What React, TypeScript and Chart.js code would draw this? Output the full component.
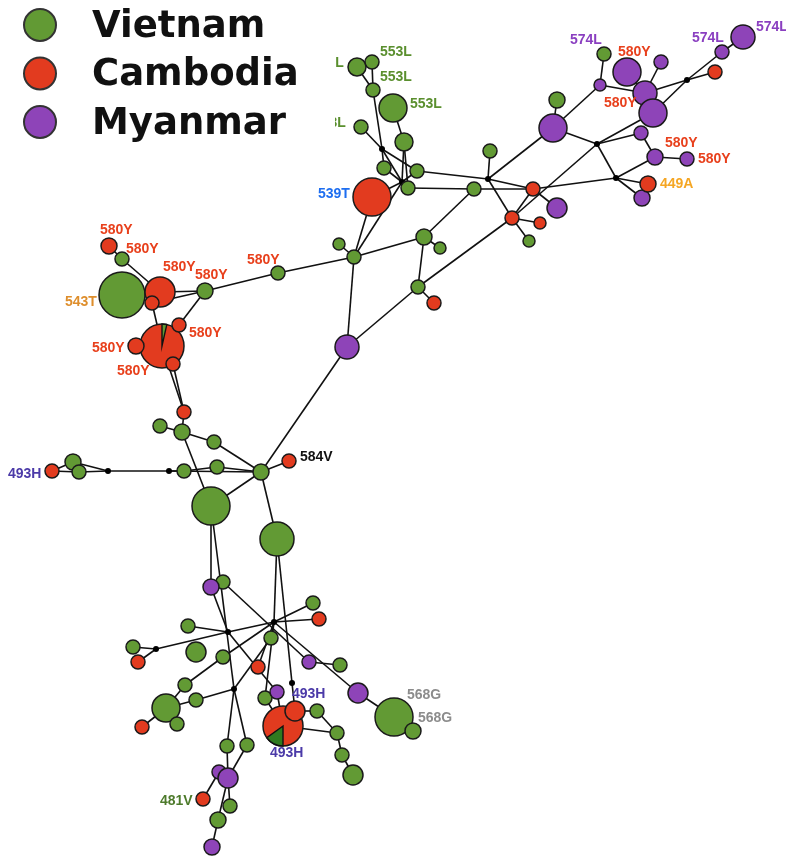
import React, { useEffect, useRef } from "react";
import { Chart, registerables } from "chart.js";
Chart.register(...registerables);

type Node = [string, number, number, number];

const vietnamNodes: Node[] = [
  ["v1", 357, 67, 9], ["v2", 372, 62, 7], ["v3", 373, 90, 7], ["v4", 393, 108, 14],
  ["v5", 361, 127, 7], ["v6", 404, 142, 9], ["v7", 384, 168, 7], ["v8", 417, 171, 7],
  ["v9", 408, 188, 7], ["v10", 490, 151, 7], ["v11", 474, 189, 7], ["v12", 529, 241, 6],
  ["v13", 424, 237, 8], ["v14", 440, 248, 6], ["v15", 339, 244, 6], ["v16", 354, 257, 7],
  ["v17", 557, 100, 8], ["v18", 604, 54, 7], ["v19", 278, 273, 7], ["v20", 418, 287, 7],
  ["v21", 122, 259, 7], ["v22", 122, 295, 23], ["v23", 205, 291, 8], ["v24", 160, 426, 7],
  ["v25", 182, 432, 8], ["v26", 214, 442, 7], ["v27", 261, 472, 8], ["v28", 217, 467, 7],
  ["v29", 184, 471, 7], ["v30", 73, 462, 8], ["v31", 79, 472, 7], ["v32", 211, 506, 19],
  ["v33", 277, 539, 17], ["v34", 223, 582, 7], ["v35", 313, 603, 7], ["v36", 188, 626, 7],
  ["v37", 133, 647, 7], ["v38", 196, 652, 10], ["v39", 271, 638, 7], ["v40", 223, 657, 7],
  ["v41", 340, 665, 7], ["v42", 265, 698, 7], ["v43", 185, 685, 7], ["v44", 196, 700, 7],
  ["v45", 166, 708, 14], ["v46", 177, 724, 7], ["v47", 317, 711, 7], ["v48", 337, 733, 7],
  ["v49", 342, 755, 7], ["v50", 353, 775, 10], ["v51", 394, 717, 19], ["v52", 413, 731, 8],
  ["v53", 227, 746, 7], ["v54", 247, 745, 7], ["v55", 230, 806, 7], ["v56", 218, 820, 8],
];

const cambodiaNodes: Node[] = [
  ["c1", 372, 197, 19], ["c2", 533, 189, 7], ["c3", 512, 218, 7], ["c4", 540, 223, 6],
  ["c5", 434, 303, 7], ["c6", 648, 184, 8], ["c7", 715, 72, 7], ["c8", 109, 246, 8],
  ["c9", 160, 292, 15], ["c10", 152, 303, 7], ["c11", 179, 325, 7], ["c13", 136, 346, 8],
  ["c14", 173, 364, 7], ["c15", 184, 412, 7], ["c16", 289, 461, 7], ["c17", 52, 471, 7],
  ["c18", 319, 619, 7], ["c19", 138, 662, 7], ["c20", 258, 667, 7], ["c21", 142, 727, 7],
  ["c23", 295, 711, 10], ["c24", 203, 799, 7],
];

const myanmarNodes: Node[] = [
  ["m1", 557, 208, 10], ["m2", 553, 128, 14], ["m3", 600, 85, 6], ["m4", 627, 72, 14],
  ["m5", 661, 62, 7], ["m6", 645, 93, 12], ["m7", 653, 113, 14], ["m8", 641, 133, 7],
  ["m9", 655, 157, 8], ["m10", 687, 159, 7], ["m11", 642, 198, 8], ["m12", 722, 52, 7],
  ["m13", 743, 37, 12], ["m14", 347, 347, 12], ["m15", 211, 587, 8], ["m16", 309, 662, 7],
  ["m17", 358, 693, 10], ["m18", 277, 692, 7], ["m19", 219, 772, 7], ["m20", 228, 778, 10],
  ["m21", 212, 847, 8],
];

// mixed haplotypes (mostly Cambodia with a Vietnam share)
const mixedNodes: Node[] = [["c12", 162, 346, 22], ["c22", 283, 726, 20]];
const mixedVietnamShare = [0.035, 0.15];
const mixedShareStartDeg = [0, 180];

const junctionNodes: [string, number, number][] = [
  ["j1", 382, 149], ["j2", 402, 182], ["j3", 488, 179], ["j4", 597, 144], ["j5", 616, 178],
  ["j6", 687, 80], ["j7", 108, 471], ["j8", 169, 471], ["j9", 274, 622], ["j10", 228, 632],
  ["j11", 156, 649], ["j12", 234, 689], ["j13", 292, 683],
];

const edges: [string, string][] = [
  ["v1", "v3"], ["v2", "v3"], ["v3", "j1"], ["j1", "v7"], ["v5", "j1"], ["j1", "v8"], ["j1", "j2"],
  ["v4", "v6"], ["v6", "j2"], ["v6", "v9"], ["v7", "j2"], ["v8", "j2"], ["v9", "j2"],
  ["c1", "j2"], ["c1", "v16"], ["j2", "v16"], ["v8", "j3"], ["v10", "j3"], ["j3", "m2"],
  ["j3", "c3"], ["j3", "c2"], ["v9", "v11"], ["v11", "c2"], ["v13", "v11"],
  ["v16", "v15"], ["v16", "v19"], ["v16", "v13"], ["v13", "v14"], ["v13", "v20"], ["v20", "c5"],
  ["v20", "c3"], ["v16", "m14"], ["m14", "v20"], ["m14", "v27"], ["v19", "v23"],
  ["c3", "c4"], ["c3", "v12"], ["c3", "c2"], ["c3", "j4"], ["c2", "m1"], ["c2", "j5"],
  ["m2", "v17"], ["m2", "j4"], ["m2", "m3"], ["m3", "v18"], ["m3", "m6"], ["m4", "m6"],
  ["m6", "m5"], ["m6", "j6"], ["j6", "m12"], ["m12", "m13"], ["j6", "c7"], ["j6", "m7"],
  ["j4", "m7"], ["j4", "m8"], ["m8", "m9"], ["m9", "m10"], ["j4", "j5"], ["j5", "m9"],
  ["j5", "c6"], ["j5", "m11"],
  ["c8", "v21"], ["v21", "c9"], ["c9", "v23"], ["c10", "v23"], ["v23", "c11"], ["c10", "c12"],
  ["c12", "c13"], ["c12", "c14"], ["c14", "c15"], ["c12", "c15"], ["c15", "v25"], ["v24", "v25"],
  ["v25", "v26"], ["v26", "v27"], ["v25", "v32"], ["v27", "c16"], ["v27", "v32"], ["v27", "v33"],
  ["v27", "v28"], ["v28", "v29"], ["v29", "j8"], ["j8", "j7"], ["j7", "v30"], ["j7", "v31"],
  ["v30", "c17"], ["v31", "c17"], ["j8", "v27"],
  ["v32", "m15"], ["m15", "v34"], ["m15", "j10"], ["v32", "j12"], ["v33", "j9"], ["v33", "j13"],
  ["j9", "v35"], ["j9", "c18"], ["j9", "v39"], ["j9", "j10"], ["j9", "m17"], ["j9", "v42"],
  ["j9", "v40"], ["j9", "c20"], ["j10", "v36"], ["j10", "j11"], ["j10", "m18"], ["j11", "v37"],
  ["j11", "c19"], ["v34", "m16"], ["m16", "v41"], ["v40", "v43"], ["v43", "v45"], ["v39", "j12"],
  ["j12", "v44"], ["v44", "v45"], ["v45", "v46"], ["v45", "c21"], ["j12", "v53"], ["v53", "m20"],
  ["j12", "v54"], ["v54", "m20"], ["m20", "m19"], ["m19", "c24"], ["m20", "v55"], ["m20", "v56"],
  ["v56", "m21"], ["j13", "c23"], ["v42", "c22"], ["m18", "c22"], ["c23", "v47"], ["v47", "v48"],
  ["c22", "v48"], ["v48", "v49"], ["v49", "v50"], ["m17", "v51"], ["v51", "v52"],
];

const legendCountries = ["Vietnam", "Cambodia", "Myanmar"];

// [text, x (left), y (middle), mutation group]
const mutationLabels: [string, number, number, string][] = [
  ["553L", 312, 63, "553L"], ["553L", 380, 52, "553L"], ["553L", 380, 77, "553L"],
  ["553L", 410, 104, "553L"], ["553L", 314, 123, "553L"], ["539T", 318, 194, "539T"],
  ["574L", 570, 40, "574L"], ["580Y", 618, 52, "580Y"], ["580Y", 604, 103, "580Y"],
  ["574L", 692, 38, "574L"], ["574L", 756, 27, "574L"], ["580Y", 665, 143, "580Y"],
  ["580Y", 698, 159, "580Y"], ["449A", 660, 184, "449A"], ["580Y", 247, 260, "580Y"],
  ["580Y", 100, 230, "580Y"], ["580Y", 126, 249, "580Y"], ["580Y", 163, 267, "580Y"],
  ["580Y", 195, 275, "580Y"], ["543T", 65, 302, "543T"], ["580Y", 189, 333, "580Y"],
  ["580Y", 92, 348, "580Y"], ["580Y", 117, 371, "580Y"], ["584V", 300, 457, "584V"],
  ["493H", 8, 474, "493H"], ["493H", 292, 694, "493H"], ["493H", 270, 753, "493H"],
  ["568G", 407, 695, "568G"], ["568G", 418, 718, "568G"], ["481V", 160, 801, "481V"],
];

const COLORS: Record<string, string> = {
  Vietnam: "#629a34",
  Cambodia: "#e23b1f",
  Myanmar: "#8e44b8",
};
const LABEL_COLORS: Record<string, string> = {
  "553L": "#5a8f2e", "539T": "#1e6ef0", "574L": "#8a3fc0", "580Y": "#e8401c",
  "449A": "#f5a623", "543T": "#de8e2c", "584V": "#111111", "493H": "#4b3aa8",
  "568G": "#8c8c8c", "481V": "#4d7a2b",
};

const toPts = (arr: Node[]) => arr.map(([, x, y, r]) => ({ x, y, r }));

export default function App() {
  const ref = useRef<HTMLCanvasElement>(null);
  useEffect(() => {
    document.body.style.margin = "0";
    const pos: Record<string, [number, number]> = {};
    [...vietnamNodes, ...cambodiaNodes, ...myanmarNodes, ...mixedNodes].forEach(([id, x, y]) => (pos[id] = [x, y]));
    junctionNodes.forEach(([id, x, y]) => (pos[id] = [x, y]));

    const networkPlugin = {
      id: "network",
      beforeDatasetsDraw(chart: any) {
        const { ctx, scales } = chart;
        ctx.save();
        ctx.strokeStyle = "#111";
        ctx.lineWidth = 1.6;
        edges.forEach(([a, b]) => {
          const p = pos[a], q = pos[b];
          if (!p || !q) return;
          ctx.beginPath();
          ctx.moveTo(scales.x.getPixelForValue(p[0]), scales.y.getPixelForValue(p[1]));
          ctx.lineTo(scales.x.getPixelForValue(q[0]), scales.y.getPixelForValue(q[1]));
          ctx.stroke();
        });
        ctx.restore();
      },
      afterDatasetDraw(chart: any, args: any) {
        if (args.index !== 3) return;
        const { ctx, scales } = chart;
        ctx.save();
        mixedNodes.forEach(([, x, y, r], i) => {
          const cx = scales.x.getPixelForValue(x);
          const cy = scales.y.getPixelForValue(y);
          const start = ((mixedShareStartDeg[i] - 90) * Math.PI) / 180;
          const end = start + mixedVietnamShare[i] * Math.PI * 2;
          ctx.beginPath();
          ctx.moveTo(cx, cy);
          ctx.arc(cx, cy, r, start, end);
          ctx.closePath();
          ctx.fillStyle = i === 0 ? COLORS.Vietnam : "#2f7a1f";
          ctx.fill();
          ctx.strokeStyle = "#111";
          ctx.lineWidth = 1.4;
          ctx.stroke();
        });
        ctx.restore();
      },
      afterDatasetsDraw(chart: any) {
        const { ctx, scales } = chart;
        ctx.save();
        ctx.font = "bold 14px 'Liberation Sans', Arial, sans-serif";
        ctx.textBaseline = "middle";
        ctx.textAlign = "left";
        mutationLabels.forEach(([t, x, y, g]) => {
          ctx.fillStyle = LABEL_COLORS[g];
          ctx.fillText(t, scales.x.getPixelForValue(x), scales.y.getPixelForValue(y));
        });
        // legend panel
        ctx.fillStyle = "#fff";
        ctx.fillRect(0, 0, 335, 140);
        ctx.font = "bold 37px 'DejaVu Sans', sans-serif";
        legendCountries.forEach((c, i) => {
          const cy = 25 + i * 48.5;
          ctx.beginPath();
          ctx.arc(40, cy, 16, 0, Math.PI * 2);
          ctx.fillStyle = COLORS[c];
          ctx.fill();
          ctx.strokeStyle = "#333";
          ctx.lineWidth = 2;
          ctx.stroke();
          ctx.fillStyle = "#111";
          ctx.fillText(c, 92, cy + 2);
        });
        ctx.restore();
      },
    };

    const bubble = (data: any, color: string, extra: any = {}) => ({
      data,
      backgroundColor: color,
      borderColor: "#1a1a1a",
      borderWidth: 1.5,
      clip: false,
      ...extra,
    });

    const chart = new Chart(ref.current!, {
      type: "bubble",
      data: {
        datasets: [
          bubble(toPts(cambodiaNodes), COLORS.Cambodia, { label: "Cambodia" }),
          bubble(toPts(myanmarNodes), COLORS.Myanmar, { label: "Myanmar" }),
          bubble(toPts(vietnamNodes), COLORS.Vietnam, { label: "Vietnam" }),
          bubble(toPts(mixedNodes), COLORS.Cambodia, { label: "Mixed" }),
          bubble(junctionNodes.map(([, x, y]) => ({ x, y, r: 3 })), "#000", { label: "Median", borderWidth: 0 }),
        ],
      },
      options: {
        responsive: false,
        animation: false,
        layout: { padding: 0, autoPadding: false },
        events: [],
        scales: {
          x: { type: "linear", min: 0, max: 786, display: false },
          y: { type: "linear", min: 0, max: 857, reverse: true, display: false },
        },
        plugins: { legend: { display: false }, tooltip: { enabled: false } },
      },
      plugins: [networkPlugin],
    } as any);
    return () => chart.destroy();
  }, []);
  return <canvas ref={ref} width={786} height={857} style={{ display: "block" }} />;
}
